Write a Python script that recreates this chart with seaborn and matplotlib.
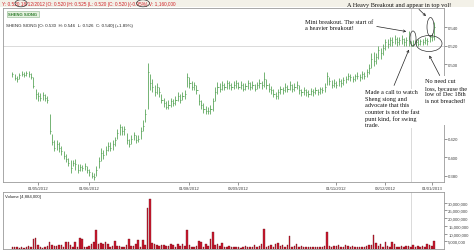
import numpy as np
import pandas as pd
import matplotlib
matplotlib.use("Agg")
import matplotlib.pyplot as plt
import seaborn as sns
from matplotlib.patches import Ellipse, FancyArrowPatch, Rectangle

# ---------------- data ----------------
holidays = ["2012-05-01", "2012-08-09", "2012-08-20", "2012-10-26",
            "2012-11-13", "2012-12-25", "2013-01-01"]
dates = pd.bdate_range("2012-04-16", "2013-01-03", freq="C", holidays=holidays)

close = [0.490, 0.485, 0.484, 0.489, 0.490, 0.489, 0.491, 0.490, 0.486, 0.477,
         0.468, 0.466, 0.464, 0.467, 0.464, 0.462, 0.428, 0.416, 0.410, 0.414,
         0.410, 0.406, 0.401, 0.398, 0.394, 0.388, 0.394, 0.392, 0.386, 0.389,
         0.388, 0.390, 0.386, 0.384, 0.380, 0.378, 0.386, 0.396, 0.404, 0.402,
         0.408, 0.412, 0.410, 0.414, 0.418, 0.426, 0.432, 0.428, 0.430, 0.418,
         0.414, 0.420, 0.424, 0.418, 0.420, 0.428, 0.434, 0.446, 0.492, 0.480,
         0.476, 0.470, 0.476, 0.470, 0.462, 0.458, 0.454, 0.456, 0.460, 0.458,
         0.462, 0.466, 0.462, 0.466, 0.468, 0.486, 0.480, 0.476, 0.478, 0.472,
         0.460, 0.456, 0.452, 0.450, 0.450, 0.452, 0.460, 0.470, 0.476, 0.474,
         0.478, 0.476, 0.480, 0.478, 0.476, 0.478, 0.480, 0.476, 0.478, 0.474,
         0.477, 0.480, 0.476, 0.478, 0.474, 0.478, 0.480, 0.478, 0.484, 0.478,
         0.474, 0.472, 0.468, 0.466, 0.470, 0.474, 0.472, 0.476, 0.474, 0.478,
         0.474, 0.476, 0.478, 0.472, 0.470, 0.472, 0.470, 0.468, 0.471, 0.470,
         0.472, 0.470, 0.473, 0.472, 0.476, 0.488, 0.482, 0.478, 0.480, 0.478,
         0.482, 0.480, 0.483, 0.484, 0.488, 0.486, 0.484, 0.487, 0.488, 0.486,
         0.490, 0.488, 0.492, 0.496, 0.506, 0.504, 0.508, 0.516, 0.512, 0.518,
         0.524, 0.522, 0.526, 0.524, 0.528, 0.524, 0.526, 0.528, 0.524, 0.526,
         0.525, 0.520, 0.522, 0.524, 0.522, 0.525, 0.524, 0.526, 0.525, 0.530,
         0.530, 0.540]
high = [0.492, 0.490, 0.488, 0.491, 0.493, 0.492, 0.493, 0.493, 0.491, 0.486,
        0.474, 0.470, 0.469, 0.470, 0.468, 0.466, 0.447, 0.425, 0.418, 0.418,
        0.416, 0.412, 0.406, 0.403, 0.399, 0.397, 0.397, 0.398, 0.392, 0.392,
        0.391, 0.393, 0.390, 0.387, 0.384, 0.383, 0.390, 0.400, 0.410, 0.408,
        0.412, 0.416, 0.416, 0.418, 0.422, 0.430, 0.436, 0.434, 0.433, 0.426,
        0.420, 0.424, 0.427, 0.424, 0.424, 0.432, 0.440, 0.452, 0.502, 0.490,
        0.484, 0.478, 0.480, 0.476, 0.468, 0.464, 0.460, 0.462, 0.464, 0.463,
        0.466, 0.470, 0.468, 0.470, 0.472, 0.491, 0.486, 0.482, 0.481, 0.478,
        0.468, 0.462, 0.458, 0.455, 0.454, 0.456, 0.464, 0.476, 0.481, 0.480,
        0.482, 0.480, 0.483, 0.482, 0.480, 0.482, 0.483, 0.481, 0.482, 0.480,
        0.480, 0.483, 0.481, 0.482, 0.479, 0.481, 0.484, 0.482, 0.492, 0.484,
        0.480, 0.477, 0.474, 0.470, 0.473, 0.477, 0.476, 0.480, 0.478, 0.482,
        0.479, 0.480, 0.482, 0.478, 0.474, 0.476, 0.474, 0.472, 0.475, 0.474,
        0.476, 0.474, 0.476, 0.476, 0.480, 0.492, 0.486, 0.483, 0.484, 0.482,
        0.485, 0.484, 0.486, 0.488, 0.491, 0.490, 0.488, 0.490, 0.492, 0.490,
        0.493, 0.492, 0.495, 0.500, 0.512, 0.514, 0.512, 0.520, 0.518, 0.522,
        0.528, 0.527, 0.530, 0.530, 0.532, 0.530, 0.530, 0.532, 0.529, 0.530,
        0.536, 0.525, 0.526, 0.528, 0.527, 0.528, 0.528, 0.530, 0.529, 0.532,
        0.534, 0.546]
low = [0.486, 0.483, 0.481, 0.484, 0.487, 0.486, 0.487, 0.486, 0.484, 0.475,
       0.463, 0.461, 0.460, 0.462, 0.460, 0.458, 0.425, 0.413, 0.406, 0.408,
       0.405, 0.402, 0.398, 0.395, 0.390, 0.383, 0.390, 0.386, 0.383, 0.385,
       0.385, 0.386, 0.383, 0.380, 0.377, 0.375, 0.380, 0.388, 0.396, 0.398,
       0.402, 0.406, 0.406, 0.408, 0.412, 0.420, 0.424, 0.424, 0.424, 0.414,
       0.411, 0.414, 0.418, 0.415, 0.416, 0.420, 0.428, 0.438, 0.452, 0.472,
       0.470, 0.466, 0.468, 0.465, 0.458, 0.454, 0.452, 0.452, 0.454, 0.455,
       0.456, 0.460, 0.458, 0.462, 0.463, 0.476, 0.475, 0.472, 0.472, 0.468,
       0.456, 0.452, 0.448, 0.447, 0.446, 0.447, 0.450, 0.460, 0.468, 0.470,
       0.472, 0.472, 0.474, 0.474, 0.472, 0.474, 0.475, 0.473, 0.474, 0.471,
       0.472, 0.474, 0.472, 0.474, 0.471, 0.473, 0.475, 0.474, 0.476, 0.474,
       0.470, 0.468, 0.465, 0.463, 0.463, 0.468, 0.468, 0.470, 0.470, 0.472,
       0.470, 0.471, 0.473, 0.468, 0.466, 0.467, 0.466, 0.465, 0.467, 0.466,
       0.468, 0.467, 0.468, 0.469, 0.470, 0.478, 0.478, 0.475, 0.476, 0.475,
       0.477, 0.476, 0.478, 0.480, 0.483, 0.482, 0.481, 0.482, 0.484, 0.482,
       0.484, 0.484, 0.486, 0.490, 0.496, 0.498, 0.500, 0.506, 0.506, 0.510,
       0.516, 0.518, 0.520, 0.520, 0.522, 0.520, 0.521, 0.522, 0.520, 0.520,
       0.520, 0.520, 0.520, 0.521, 0.520, 0.521, 0.521, 0.522, 0.521, 0.524,
       0.525, 0.526]
volume_m = [1.4, 1.6, 1.2, 0.8, 1.5, 0.6, 1.0, 1.8, 1.2, 6.2,
            7.0, 2.4, 1.4, 0.9, 1.6, 2.2, 4.8, 2.6, 2.2, 2.0,
            2.4, 2.8, 1.2, 4.3, 4.3, 2.5, 1.6, 4.8, 1.0, 7.0,
            6.3, 1.2, 1.6, 2.2, 3.0, 4.8, 12.4, 3.0, 3.7, 3.0,
            4.8, 3.5, 1.4, 1.8, 5.4, 2.2, 2.0, 1.6, 1.2, 2.4,
            6.3, 2.0, 1.8, 3.5, 5.9, 1.6, 5.9, 2.5, 26.5, 32.4,
            3.7, 3.0, 2.4, 2.0, 2.8, 2.6, 1.8, 2.2, 3.2, 2.4,
            1.6, 3.2, 2.0, 3.0, 2.2, 12.4, 2.6, 1.6, 1.4, 2.0,
            5.4, 4.3, 1.6, 3.0, 2.2, 6.3, 11.3, 2.6, 3.0, 1.8,
            4.1, 1.6, 1.2, 2.0, 1.4, 1.0, 1.6, 1.2, 0.8, 1.4,
            2.0, 1.2, 1.0, 1.6, 2.6, 1.4, 2.0, 3.0, 12.9, 1.6,
            2.2, 2.6, 1.4, 3.0, 3.7, 1.8, 2.8, 1.4, 2.4, 8.5,
            1.2, 1.8, 3.0, 1.6, 2.2, 1.2, 1.4, 1.0, 1.4, 1.2,
            1.6, 1.0, 1.4, 1.2, 2.0, 11.3, 2.0, 1.6, 2.2, 1.8,
            2.6, 1.6, 1.4, 2.4, 1.8, 1.2, 2.0, 1.4, 1.0, 1.4,
            1.2, 1.6, 2.2, 2.8, 2.4, 9.2, 4.1, 2.2, 3.0, 1.6,
            4.3, 2.0, 1.4, 4.8, 3.0, 1.6, 1.2, 1.8, 1.4, 2.0,
            2.2, 1.16, 2.6, 1.4, 1.8, 1.6, 2.0, 1.4, 3.0, 2.4,
            1.8, 4.9]

tick_labels = ["01/05/2012", "01/06/2012", "01/08/2012", "03/09/2012",
               "01/11/2012", "03/12/2012", "01/01/2013"]
price_ticks = [0.380, 0.400, 0.420, 0.440, 0.460, 0.480, 0.500, 0.520, 0.540]
hidden_price_labels = [0.440, 0.460, 0.480]   # covered by the note box
volume_ticks_m = [5, 10, 15, 20, 25, 30]
cursor_date = "2012-12-18"
cursor_price = 0.520

header_text = ("Y: 0.520 18/12/2012 |O: 0.520 |H: 0.525 |L: 0.520 |C: 0.520 "
               "|(-0.95%) V: 1,160,000")
series_name = "SHENG SIONG"
series_text = "SHENG SIONG [O: 0.530  H: 0.546  L: 0.526  C: 0.540] (+1.89%)"
volume_text = "Volume [4,884,000]"
note_heavy = "A Heavy Breakout and appear in top vol!"
note_mini = "Mini breakout. The start of\na heavier breakout!"
note_call = ("Made a call to watch\nSheng siong and\nadvocate that this\n"
             "counter is not the fast\npunt kind, for swing\ntrade.")
note_loss = "No need cut\nloss, because the\nlow of Dec 18th\nis not breached!"

n = len(close)
for arr in (high, low, volume_m):
    assert len(arr) == n, (len(arr), n)
assert len(dates) == n, (len(dates), n)

df = pd.DataFrame({"idx": np.arange(n), "close": close, "high": high,
                   "low": low, "volume": volume_m})
tick_pos = [int(dates.searchsorted(pd.to_datetime(t, dayfirst=True)))
            for t in tick_labels]
cursor_idx = int(dates.searchsorted(pd.Timestamp(cursor_date)))

# ---------------- style ----------------
sns.set_style("white")
plt.rcParams["font.family"] = ["Liberation Sans", "DejaVu Sans"]
serif = ["Liberation Serif", "DejaVu Serif"]

W, H = 474, 253
fig = plt.figure(figsize=(W / 100, H / 100), dpi=100)


def fx(x):
    return x / W


def fy(y):
    return 1 - y / H


green = "#4e9f4e"
spine_c = "#9a9a9a"
grid_c = "#d4d4d4"

# header strip
fig.add_artist(Rectangle((0, fy(8)), 1, 1 - fy(8), transform=fig.transFigure,
                         facecolor="#f3f1e8", edgecolor="none", zorder=0))
fig.text(fx(1.5), fy(4.3), header_text, color="#d0242a", fontsize=3.4,
         va="center", ha="left")

axp = fig.add_axes([fx(3), fy(183), fx(444) - fx(3), fy(9) - fy(183)])
axv = fig.add_axes([fx(3), fy(250), fx(444) - fx(3), fy(193) - fy(250)])

# ---------------- price panel ----------------
axp.vlines(df["idx"], df["low"], df["high"], color=green, lw=0.55)
axp.hlines(df["close"], df["idx"], df["idx"] + 0.5, color=green, lw=0.55)
axp.axvline(cursor_idx, color=grid_c, lw=0.6, zorder=0)
axp.axhline(cursor_price, color=grid_c, lw=0.6, zorder=0)
axp.set_xlim(-4.0, 185.2)
axp.set_ylim(0.373, 0.561)
axp.yaxis.tick_right()
axp.set_yticks(price_ticks,
               ["" if v in hidden_price_labels else f"{v:.3f}"
                for v in price_ticks])
axp.set_xticks(tick_pos, tick_labels)
axp.tick_params(axis="both", labelsize=3.1, length=2, width=0.4, pad=1,
                colors="#444444", direction="out")
axp.tick_params(axis="y", right=True, left=False)
axp.tick_params(axis="x", bottom=True)
for s in axp.spines.values():
    s.set_color(spine_c)
    s.set_linewidth(0.6)

axp.text(0.012, 0.965, series_name, transform=axp.transAxes, fontsize=3.0,
         color="#2f7d2f", fontweight="bold", va="center", ha="left",
         bbox=dict(boxstyle="square,pad=0.3", fc="#e6f2e0", ec="#8fb48f",
                   lw=0.4))
axp.text(0.007, 0.9, series_text, transform=axp.transAxes, fontsize=3.2,
         color="#222222", va="center", ha="left")

# ---------------- volume panel ----------------
sns.barplot(data=df, x="idx", y="volume", native_scale=True, ax=axv,
            color="#cc1a30", saturation=1, width=0.65, errorbar=None,
            edgecolor="#6a0c16", linewidth=0.25)
axv.axvline(cursor_idx, color=grid_c, lw=0.6, zorder=0)
axv.set_xlim(-4.0, 185.2)
axv.set_ylim(0, 37)
axv.set_xlabel("")
axv.set_ylabel("")
axv.yaxis.tick_right()
axv.set_yticks(volume_ticks_m, [f"{v * 1e6:,.0f}" for v in volume_ticks_m])
axv.set_xticks([])
axv.tick_params(axis="y", labelsize=3.1, length=2, width=0.4, pad=1,
                colors="#444444", right=True, left=False)
for s in axv.spines.values():
    s.set_color(spine_c)
    s.set_linewidth(0.6)
axv.text(0.005, 0.93, volume_text, transform=axv.transAxes, fontsize=3.1,
         color="#222222", va="center", ha="left")

# ---------------- hand-drawn annotations ----------------
fs = 4.5


def arrow(x0, y0, x1, y1):
    fig.add_artist(FancyArrowPatch((fx(x0), fy(y0)), (fx(x1), fy(y1)),
                                   transform=fig.transFigure, arrowstyle="->",
                                   mutation_scale=4, lw=0.5, color="#222222",
                                   zorder=6))


def oval(cx, cy, w, h):
    fig.add_artist(Ellipse((fx(cx), fy(cy)), w / W, h / H,
                           transform=fig.transFigure, fill=False, lw=0.5,
                           edgecolor="#333333", zorder=6))


fig.text(fx(347), fy(5.2), note_heavy, family=serif, fontsize=fs,
         ha="left", va="center", color="#111111", zorder=7)
arrow(417, 8.5, 428, 19)
oval(430.5, 28, 7, 19)

fig.text(fx(305), fy(20.5), note_mini, family=serif, fontsize=fs,
         ha="left", va="top", linespacing=1.15, color="#111111", zorder=7)
arrow(374, 27, 409, 33)
oval(413, 39.5, 6, 15)
oval(429, 44.5, 26, 16)

# white backing box behind the right-hand note
fig.add_artist(Rectangle((fx(421), fy(126)), fx(474) - fx(421), fy(77) - fy(126),
                         transform=fig.transFigure, facecolor="white",
                         edgecolor="none", zorder=5))
fig.text(fx(365), fy(90.5), note_call, family=serif, fontsize=fs,
         ha="left", va="top", linespacing=1.35, color="#111111", zorder=7,
         bbox=dict(boxstyle="square,pad=0.15", fc="white", ec="none"))
arrow(393, 89, 410, 48)

fig.text(fx(425), fy(79.5), note_loss, family=serif, fontsize=fs,
         ha="left", va="top", linespacing=1.35, color="#111111", zorder=7)
arrow(441, 79, 428, 54)

# small hand-drawn ovals in the header line
oval(21, 4.3, 12, 7)
oval(143, 4.3, 13, 7)

fig.savefig("out.png", dpi=100)
